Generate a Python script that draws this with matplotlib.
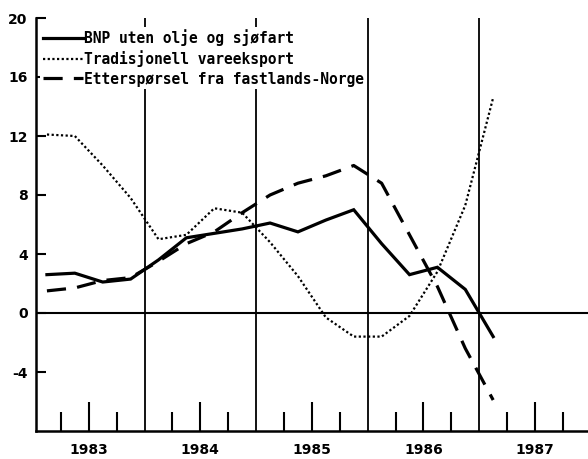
import matplotlib
matplotlib.use("Agg")
import matplotlib.pyplot as plt

plt.rcParams['axes.unicode_minus'] = False

# ---- data (quarterly, % change) ----
quarters = ["1983Q1", "1983Q2", "1983Q3", "1983Q4",
            "1984Q1", "1984Q2", "1984Q3", "1984Q4",
            "1985Q1", "1985Q2", "1985Q3", "1985Q4",
            "1986Q1", "1986Q2", "1986Q3", "1986Q4",
            "1987Q1"]
bnp = [2.6, 2.7, 2.1, 2.3, 3.6, 5.1, 5.4, 5.7, 6.1, 5.5, 6.3, 7.0,
       4.7, 2.6, 3.1, 1.6, -1.6]
tradisjonell = [12.1, 12.0, 10.0, 7.8, 5.0, 5.3, 7.1, 6.8, 4.8, 2.5, -0.3,
                -1.6, -1.6, -0.2, 2.8, 7.3, 14.6]
etterspoersel = [1.5, 1.7, 2.2, 2.4, 3.5, 4.7, 5.5, 6.8, 8.0, 8.8, 9.3,
                 10.0, 8.8, 5.3, 1.8, -2.4, -5.9]
labels = ["BNP uten olje og sjøfart",
          "Tradisjonell vareeksport",
          "Etterspørsel fra fastlands-Norge"]
year_labels = ["1983", "1984", "1985", "1986", "1987"]
yticks = [-4, 0, 4, 8, 12, 16, 20]

def qpos(q):
    y, n = q.split("Q")
    return int(y) + (int(n) - 0.5) / 4.0

x = [qpos(q) for q in quarters]

fig = plt.figure(figsize=(5.88, 4.59), dpi=100)
ax = fig.add_axes([36/588, 1 - 431/459, 1 - 36/588, (431 - 18)/459])

ax.plot(x, bnp, color="black", lw=2.3, solid_joinstyle="miter", label=labels[0])
ax.plot(x, tradisjonell, color="black", lw=1.6, linestyle=(0, (1, 1.1)), label=labels[1])
ax.plot(x, etterspoersel, color="black", lw=2.3, linestyle=(0, (6, 3.5)), label=labels[2])

ax.axhline(0, color="black", lw=1.5, zorder=1)
for yr in [1984, 1985, 1986, 1987]:
    ax.axvline(yr, color="black", lw=1.3, zorder=1)

ax.set_xlim(1983.027, 1987.975)
ax.set_ylim(-8, 20)

years = [int(y) for y in year_labels]
ax.set_xticks([y + 0.5 for y in years])
ax.set_xticklabels(year_labels)
ax.set_xticks([y + d for y in years for d in (0.25, 0.75)], minor=True)
ax.tick_params(axis="x", which="major", direction="in", length=21, width=1.5, pad=9)
ax.tick_params(axis="x", which="minor", direction="in", length=14, width=1.5)
ax.set_yticks(yticks)
ax.set_yticklabels([str(v) for v in yticks])
ax.tick_params(axis="y", direction="in", length=7, width=1.5, pad=6)

for lab in ax.get_xticklabels() + ax.get_yticklabels():
    lab.set_fontsize(10)
    lab.set_fontweight("bold")

for s in ["top", "right"]:
    ax.spines[s].set_visible(False)
ax.spines["left"].set_linewidth(1.8)
ax.spines["bottom"].set_linewidth(1.8)

leg = ax.legend(loc="upper left", bbox_to_anchor=(0.0, 0.99), frameon=True,
                prop={"family": "DejaVu Sans Mono", "size": 10.5, "weight": "bold"},
                handlelength=2.7, handletextpad=0.1, labelspacing=0.29,
                borderpad=0.2, borderaxespad=0.3)
leg.get_frame().set_edgecolor("none")
leg.get_frame().set_facecolor("white")
leg.get_frame().set_alpha(1.0)

fig.savefig("out.png", dpi=100)
